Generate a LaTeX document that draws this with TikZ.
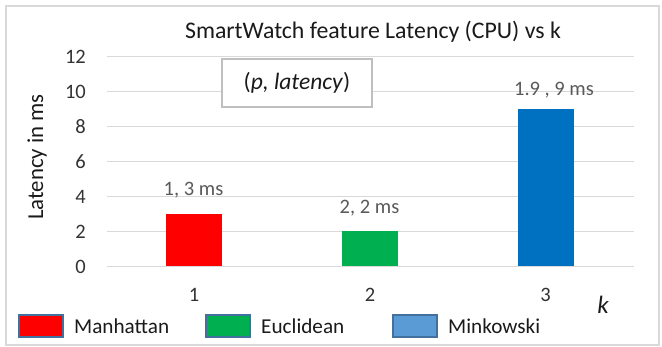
\documentclass[tikz,border=0pt]{standalone}
\usepackage{fontspec}
\setmainfont{Carlito}
\definecolor{gridgray}{HTML}{D9D9D9}
\definecolor{framegray}{HTML}{D9D9D9}
\definecolor{boxgray}{HTML}{BFBFBF}
\definecolor{txtdark}{HTML}{1A1A1A}
\definecolor{txtmid}{HTML}{333333}
\definecolor{txtlab}{HTML}{595959}
\definecolor{barred}{HTML}{FF0000}
\definecolor{bargreen}{HTML}{00B050}
\definecolor{barblue}{HTML}{0070C0}
\definecolor{legblue}{HTML}{5B9BD5}
\definecolor{swatchedge}{HTML}{41719C}
\begin{document}
\begin{tikzpicture}[x=1pt,y=-1pt,
  frame/.style={draw=framegray,line width=1.2pt},
  gridline/.style={draw=gridgray,line width=1.4pt},
  ticklab/.style={inner sep=0pt,anchor=east,text=txtmid,font=\fontsize{20.5}{24}\selectfont},
  catlab/.style={inner sep=0pt,text=txtmid,font=\fontsize{20.5}{24}\selectfont},
  datalab/.style={inner sep=0pt,text=txtlab,font=\fontsize{20.5}{24}\selectfont},
  bar/.style={draw=none,inner sep=0pt,minimum width=56pt,anchor=south},
  swatch/.style={draw=swatchedge,line width=1.6pt,inner sep=0pt,minimum width=44pt,minimum height=22pt},
  legtext/.style={inner sep=0pt,anchor=base west,text=txtdark,font=\fontsize{21.2}{25}\selectfont},
  notebox/.style={draw=boxgray,line width=1.2pt,fill=white,minimum width=150pt,minimum height=48pt,inner sep=0pt,text=txtdark,font=\fontsize{23.5}{27}\selectfont}
]
\useasboundingbox (0,0) rectangle (662,347);
% outer chart frame
\draw[frame] (6,6) rectangle (659,345);

% title
\node[inner sep=0pt,text=txtdark,font=\fontsize{23.8}{28}\selectfont] (title) at (373,32) {SmartWatch feature Latency (CPU) vs k};

% horizontal grid lines and value ticks (17.5 units per ms)
\foreach \v in {0,2,...,12} {
  \coordinate (gl\v) at (107,{266.5-17.5*\v});
  \coordinate (gr\v) at (634,{266.5-17.5*\v});
  \draw[gridline] (gl\v) -- (gr\v);
  \node[ticklab] (tick\v) at (86,{266.5-17.5*\v}) {\v};
}

% axis title
\node[inner sep=0pt,rotate=90,text=txtdark,font=\fontsize{22.8}{26}\selectfont] (ytitle) at (37,157) {Latency in ms};

% bars
\node[bar,fill=barred,minimum height=52.5pt] (bar1) at (194,266.5) {};
\node[bar,fill=bargreen,minimum height=35pt] (bar2) at (369.5,266.5) {};
\node[bar,fill=barblue,minimum height=157.5pt] (bar3) at (545.5,266.5) {};

% data labels
\node[datalab] (lab1) at (193.5,190) {1, 3 ms};
\node[datalab] (lab2) at (369.5,208) {2, 2 ms};
\node[datalab] (lab3) at (554,90) {1.9 , 9 ms};

% annotation box
\node[notebox] (note) at (297,83) {(\textit{p, latency})};

% category labels
\node[catlab] (cat1) at (194,295) {1};
\node[catlab] (cat2) at (370,295) {2};
\node[catlab] (cat3) at (545.5,295) {3};
\node[inner sep=0pt,text=txtdark,font=\fontsize{25}{29}\selectfont\itshape] (kaxis) at (603,305) {k};

% legend
\node[swatch,fill=barred] (sw1) at (41,326) {};
\node[legtext] (lt1) at (74,334) {Manhattan};
\node[swatch,fill=bargreen] (sw2) at (228,326) {};
\node[legtext] (lt2) at (261,334) {Euclidean};
\node[swatch,fill=legblue] (sw3) at (415,326) {};
\node[legtext] (lt3) at (448,334) {Minkowski};
\end{tikzpicture}
\end{document}
